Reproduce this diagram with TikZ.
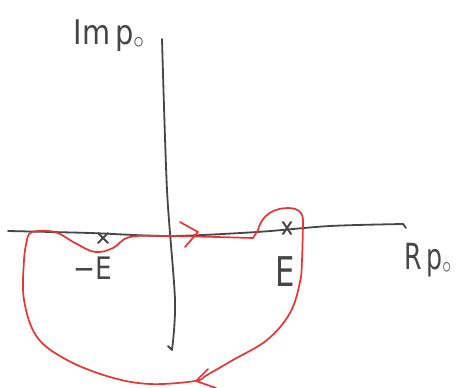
\documentclass[tikz,border=0pt]{standalone}
\usepackage{fontspec}
\setmainfont{DejaVu Sans}
\usetikzlibrary{calc}
\definecolor{pen}{RGB}{70,70,70}
\definecolor{redpen}{RGB}{232,52,52}
\begin{document}
\begin{tikzpicture}[x=1pt,y=-1pt,
  axisline/.style={draw=pen,line width=1.8pt,line cap=round,line join=round},
  contour/.style={draw=redpen,line width=1.7pt,line cap=round,line join=round},
  lbl/.style={text=pen,inner sep=0pt},
  xmark/.style={draw=pen,line width=2pt,line cap=round}]
\useasboundingbox (0,0) rectangle (458,388);
% axes
\coordinate (reL) at (8,231);
\coordinate (reR) at (403,224);
\coordinate (imT) at (162,39);
\coordinate (imB) at (172,350);
\draw[axisline] plot[smooth,tension=0.5] coordinates {(reL) (90,233) (170,236) (257,232) (330,226) (reR)} -- (406,228);
\draw[axisline] plot[smooth,tension=0.5] coordinates {(imT) (167,190) (175,300) (imB)} -- (168,346);
% poles
\coordinate (pm) at (103,238);
\coordinate (pp) at (287,228);
\draw[xmark] ($(pm)+(-5,-5)$) -- ($(pm)+(5,5)$) ($(pm)+(5,-5)$) -- ($(pm)+(-5,5)$);
\draw[xmark] ($(pp)+(-4,-6)$) -- ($(pp)+(4,6)$) ($(pp)+(4,-6)$) -- ($(pp)+(-4,6)$);
% labels
\node[lbl,font=\fontsize{34}{36}\selectfont,xscale=0.85] (im) at (109,36) {Im\,p$_\circ$};
\node[lbl,font=\fontsize{36}{38}\selectfont,xscale=0.7] (re) at (428,260) {R\,p$_\circ$};
\node[lbl,font=\fontsize{31}{33}\selectfont,xscale=0.85] (me) at (93,268) {−E};
\node[lbl,font=\fontsize{41}{43}\selectfont,xscale=0.75] (pe) at (285,272) {E};
% contour
\draw[contour] plot[smooth,tension=0.6] coordinates {(27,240) (32,232) (55,232) (75,243) (95,252) (113,248) (130,237) (170,236) (253,238)}
  -- (258,230) .. controls (262,214) and (275,208) .. (288,208) .. controls (300,208) and (304,214) .. (303,225)
  plot[smooth,tension=0.6] coordinates {(303,225) (302,260) (300,282) (290,313) (267,340) (233,360) (207,375) (195,381) (150,384) (110,377) (67,360) (37,337) (24,300) (24,260) (27,240)};
\coordinate (ta) at (198,232);
\coordinate (ba) at (196,381);
\draw[contour] (180,222) -- (ta) -- (185,247);
\draw[contour] (208,369) -- (ba) -- (216,388);
\end{tikzpicture}
\end{document}
